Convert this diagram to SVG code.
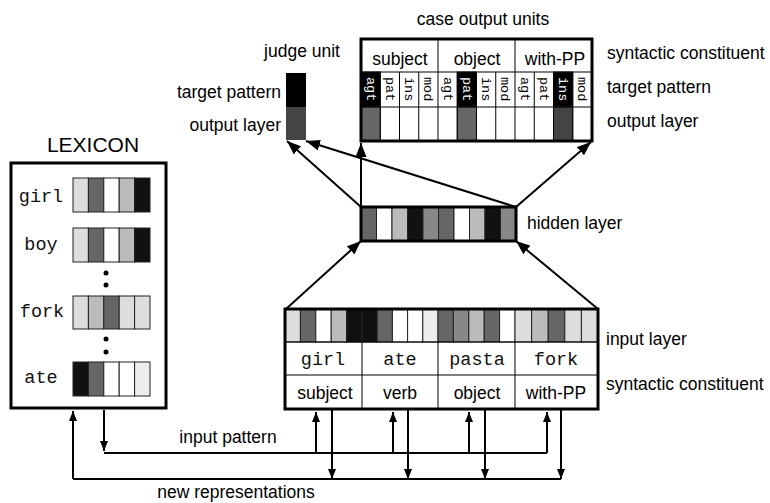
<svg xmlns="http://www.w3.org/2000/svg" width="770" height="503" viewBox="0 0 770 503">
<style>
.t{font-family:"Liberation Sans",Arial,sans-serif;font-size:17.5px;fill:#000}
.m{font-family:"Liberation Mono","Courier New",monospace;font-size:18.5px;fill:#111}
.r{font-family:"Liberation Mono","Courier New",monospace;font-size:13.5px;fill:#000}
.rw{fill:#fff}
.frame{fill:none;stroke:#000;stroke-width:3}
.cell{stroke:#222;stroke-width:1}
.ln{fill:none;stroke:#000;stroke-width:1}
.c{stroke:#000;stroke-width:2;fill:none}
</style>
<defs>
<marker id="ah" viewBox="0 0 14 11" refX="14" refY="5.5" markerWidth="14" markerHeight="11" orient="auto" markerUnits="userSpaceOnUse"><path d="M0,0 L14,5.5 L0,11 Z" fill="#000"/></marker>
<marker id="ahs" viewBox="0 0 10 8" refX="10" refY="4" markerWidth="10" markerHeight="8" orient="auto" markerUnits="userSpaceOnUse"><path d="M0,0 L10,4 L0,8 Z" fill="#000"/></marker>
</defs>
<rect width="770" height="503" fill="#fff"/>

<g id="lexicon">
<text class="t" x="93" y="152" text-anchor="middle" style="font-size:21px">LEXICON</text>
<rect x="11" y="163" width="155" height="245" class="frame"/>
<text class="m" x="41" y="202" text-anchor="middle">girl</text>
<g class="cell">
<rect x="73" y="178" width="15.4" height="34" fill="#ddd"/><rect x="88.4" y="178" width="15.4" height="34" fill="#666"/><rect x="103.8" y="178" width="15.4" height="34" fill="#fff"/><rect x="119.2" y="178" width="15.4" height="34" fill="#bbb"/><rect x="134.6" y="178" width="15.4" height="34" fill="#111"/>
</g>
<text class="m" x="41" y="250" text-anchor="middle">boy</text>
<g class="cell">
<rect x="73" y="228" width="15.4" height="34" fill="#ddd"/><rect x="88.4" y="228" width="15.4" height="34" fill="#666"/><rect x="103.8" y="228" width="15.4" height="34" fill="#fff"/><rect x="119.2" y="228" width="15.4" height="34" fill="#bbb"/><rect x="134.6" y="228" width="15.4" height="34" fill="#111"/>
</g>
<circle cx="106" cy="273" r="2.5"/><circle cx="106" cy="285" r="2.5"/>
<text class="m" x="42" y="317" text-anchor="middle">fork</text>
<g class="cell">
<rect x="73" y="296" width="15.4" height="33" fill="#ddd"/><rect x="88.4" y="296" width="15.4" height="33" fill="#bbb"/><rect x="103.8" y="296" width="15.4" height="33" fill="#666"/><rect x="119.2" y="296" width="15.4" height="33" fill="#ddd"/><rect x="134.6" y="296" width="15.4" height="33" fill="#ddd"/>
</g>
<circle cx="106" cy="339" r="2.5"/><circle cx="106" cy="352" r="2.5"/>
<text class="m" x="41" y="383" text-anchor="middle">ate</text>
<g class="cell">
<rect x="73" y="362" width="15.4" height="34" fill="#111"/><rect x="88.4" y="362" width="15.4" height="34" fill="#666"/><rect x="103.8" y="362" width="15.4" height="34" fill="#fff"/><rect x="119.2" y="362" width="15.4" height="34" fill="#fff"/><rect x="134.6" y="362" width="15.4" height="34" fill="#eee"/>
</g>
</g>

<g id="judge-unit">
<text class="t" x="302" y="57" text-anchor="middle">judge unit</text>
<text class="t" x="281" y="98" text-anchor="end">target pattern</text>
<text class="t" x="281" y="131" text-anchor="end">output layer</text>
<rect x="286" y="73" width="20" height="34" fill="#000"/>
<rect x="286" y="107" width="20" height="33" fill="#444"/>
</g>

<g id="case-output">
<text class="t" x="483" y="25" text-anchor="middle">case output units</text>
<g class="cell">
<rect x="361" y="72" width="19.25" height="35" fill="#000"/>
<rect x="457.25" y="72" width="19.25" height="35" fill="#000"/>
<rect x="553.5" y="72" width="19.25" height="35" fill="#000"/>
<rect x="361" y="107" width="19.25" height="34" fill="#666"/>
<rect x="457.25" y="107" width="19.25" height="34" fill="#666"/>
<rect x="553.5" y="107" width="19.25" height="34" fill="#444"/>
</g>
<path class="ln" d="M361,72H592M361,107H592M438,39V141M515,39V141M380.25,72V141M399.5,72V141M418.75,72V141M457.25,72V141M476.5,72V141M495.75,72V141M534.25,72V141M553.5,72V141M572.75,72V141"/>
<rect x="361" y="39" width="231" height="102" class="frame"/>
<text class="t" x="400" y="65" text-anchor="middle">subject</text>
<text class="t" x="477" y="65" text-anchor="middle">object</text>
<text class="t" x="555" y="65" text-anchor="middle">with-PP</text>
<g class="r">
<text transform="translate(366.5,77) rotate(90)" class="rw">agt</text>
<text transform="translate(385.8,77) rotate(90)">pat</text>
<text transform="translate(405,77) rotate(90)">ins</text>
<text transform="translate(424.3,77) rotate(90)">mod</text>
<text transform="translate(443.5,77) rotate(90)">agt</text>
<text transform="translate(462.8,77) rotate(90)" class="rw">pat</text>
<text transform="translate(482,77) rotate(90)">ins</text>
<text transform="translate(501.3,77) rotate(90)">mod</text>
<text transform="translate(520.5,77) rotate(90)">agt</text>
<text transform="translate(539.8,77) rotate(90)">pat</text>
<text transform="translate(559,77) rotate(90)" class="rw">ins</text>
<text transform="translate(578.3,77) rotate(90)">mod</text>
</g>
<text class="t" x="607" y="59">syntactic constituent</text>
<text class="t" x="607" y="93">target pattern</text>
<text class="t" x="607" y="127">output layer</text>
</g>

<g id="hidden-layer">
<g class="cell">
<rect x="361" y="207" width="15.5" height="34" fill="#666"/><rect x="376.5" y="207" width="15.5" height="34" fill="#fff"/><rect x="392" y="207" width="15.5" height="34" fill="#bbb"/><rect x="407.5" y="207" width="15.5" height="34" fill="#111"/><rect x="423" y="207" width="15.5" height="34" fill="#888"/><rect x="438.5" y="207" width="15.5" height="34" fill="#666"/><rect x="454" y="207" width="15.5" height="34" fill="#fff"/><rect x="469.5" y="207" width="15.5" height="34" fill="#bbb"/><rect x="485" y="207" width="15.5" height="34" fill="#111"/><rect x="500.5" y="207" width="15.5" height="34" fill="#888"/>
</g>
<rect x="361" y="207" width="155" height="34" class="frame"/>
<text class="t" x="527" y="229">hidden layer</text>
</g>

<g id="input-layer">
<g class="cell">
<rect x="285" y="309" width="15.4" height="33" fill="#ddd"/><rect x="300.4" y="309" width="15.4" height="33" fill="#666"/><rect x="315.8" y="309" width="15.4" height="33" fill="#fff"/><rect x="331.2" y="309" width="15.4" height="33" fill="#bbb"/><rect x="346.6" y="309" width="15.4" height="33" fill="#111"/>
<rect x="362" y="309" width="15.2" height="33" fill="#111"/><rect x="377.2" y="309" width="15.2" height="33" fill="#666"/><rect x="392.4" y="309" width="15.2" height="33" fill="#fff"/><rect x="407.6" y="309" width="15.2" height="33" fill="#fff"/><rect x="422.8" y="309" width="15.2" height="33" fill="#eee"/>
<rect x="438" y="309" width="15.4" height="33" fill="#666"/><rect x="453.4" y="309" width="15.4" height="33" fill="#888"/><rect x="468.8" y="309" width="15.4" height="33" fill="#bbb"/><rect x="484.2" y="309" width="15.4" height="33" fill="#666"/><rect x="499.6" y="309" width="15.4" height="33" fill="#fff"/>
<rect x="515" y="309" width="16.6" height="33" fill="#ddd"/><rect x="531.6" y="309" width="16.6" height="33" fill="#bbb"/><rect x="548.2" y="309" width="16.6" height="33" fill="#666"/><rect x="564.8" y="309" width="16.6" height="33" fill="#ddd"/><rect x="581.4" y="309" width="16.6" height="33" fill="#ddd"/>
</g>
<path class="ln" d="M285,342H598M285,375H598M362,342V409M438,342V409M515,342V409"/>
<rect x="285" y="309" width="313" height="100" class="frame"/>
<text class="m" x="323" y="365" text-anchor="middle">girl</text>
<text class="m" x="400" y="365" text-anchor="middle">ate</text>
<text class="m" x="477" y="365" text-anchor="middle">pasta</text>
<text class="m" x="556" y="365" text-anchor="middle">fork</text>
<text class="t" x="325" y="399" text-anchor="middle">subject</text>
<text class="t" x="400" y="399" text-anchor="middle">verb</text>
<text class="t" x="477" y="399" text-anchor="middle">object</text>
<text class="t" x="556" y="399" text-anchor="middle">with-PP</text>
<text class="t" x="606" y="345">input layer</text>
<text class="t" x="606" y="390">syntactic constituent</text>
</g>

<g id="connectors">
<line class="c" x1="361" y1="207" x2="361" y2="143" marker-end="url(#ah)"/>
<line class="c" x1="516" y1="207" x2="591" y2="142" marker-end="url(#ah)"/>
<line class="c" x1="361" y1="207" x2="287" y2="141" marker-end="url(#ah)"/>
<line class="c" x1="516" y1="207" x2="306" y2="141" marker-end="url(#ah)"/>
<line class="c" x1="286" y1="309" x2="361" y2="241" marker-end="url(#ah)"/>
<line class="c" x1="598" y1="309" x2="516" y2="241" marker-end="url(#ah)"/>
<path class="c" d="M104,410V451" marker-end="url(#ahs)"/>
<path class="c" d="M104,453H547"/>
<path class="c" d="M316,453V412" marker-end="url(#ahs)"/>
<path class="c" d="M393,453V412" marker-end="url(#ahs)"/>
<path class="c" d="M469,453V412" marker-end="url(#ahs)"/>
<path class="c" d="M547,453V412" marker-end="url(#ahs)"/>
<path class="c" d="M332,410V479" marker-end="url(#ahs)"/>
<path class="c" d="M408,410V479" marker-end="url(#ahs)"/>
<path class="c" d="M485,410V479" marker-end="url(#ahs)"/>
<path class="c" d="M561,410V479" marker-end="url(#ahs)"/>
<path class="c" d="M73,479H561"/>
<path class="c" d="M73,479V411" marker-end="url(#ahs)"/>
<text class="t" x="228" y="443" text-anchor="middle">input pattern</text>
<text class="t" x="236" y="498" text-anchor="middle">new representations</text>
</g>
</svg>
